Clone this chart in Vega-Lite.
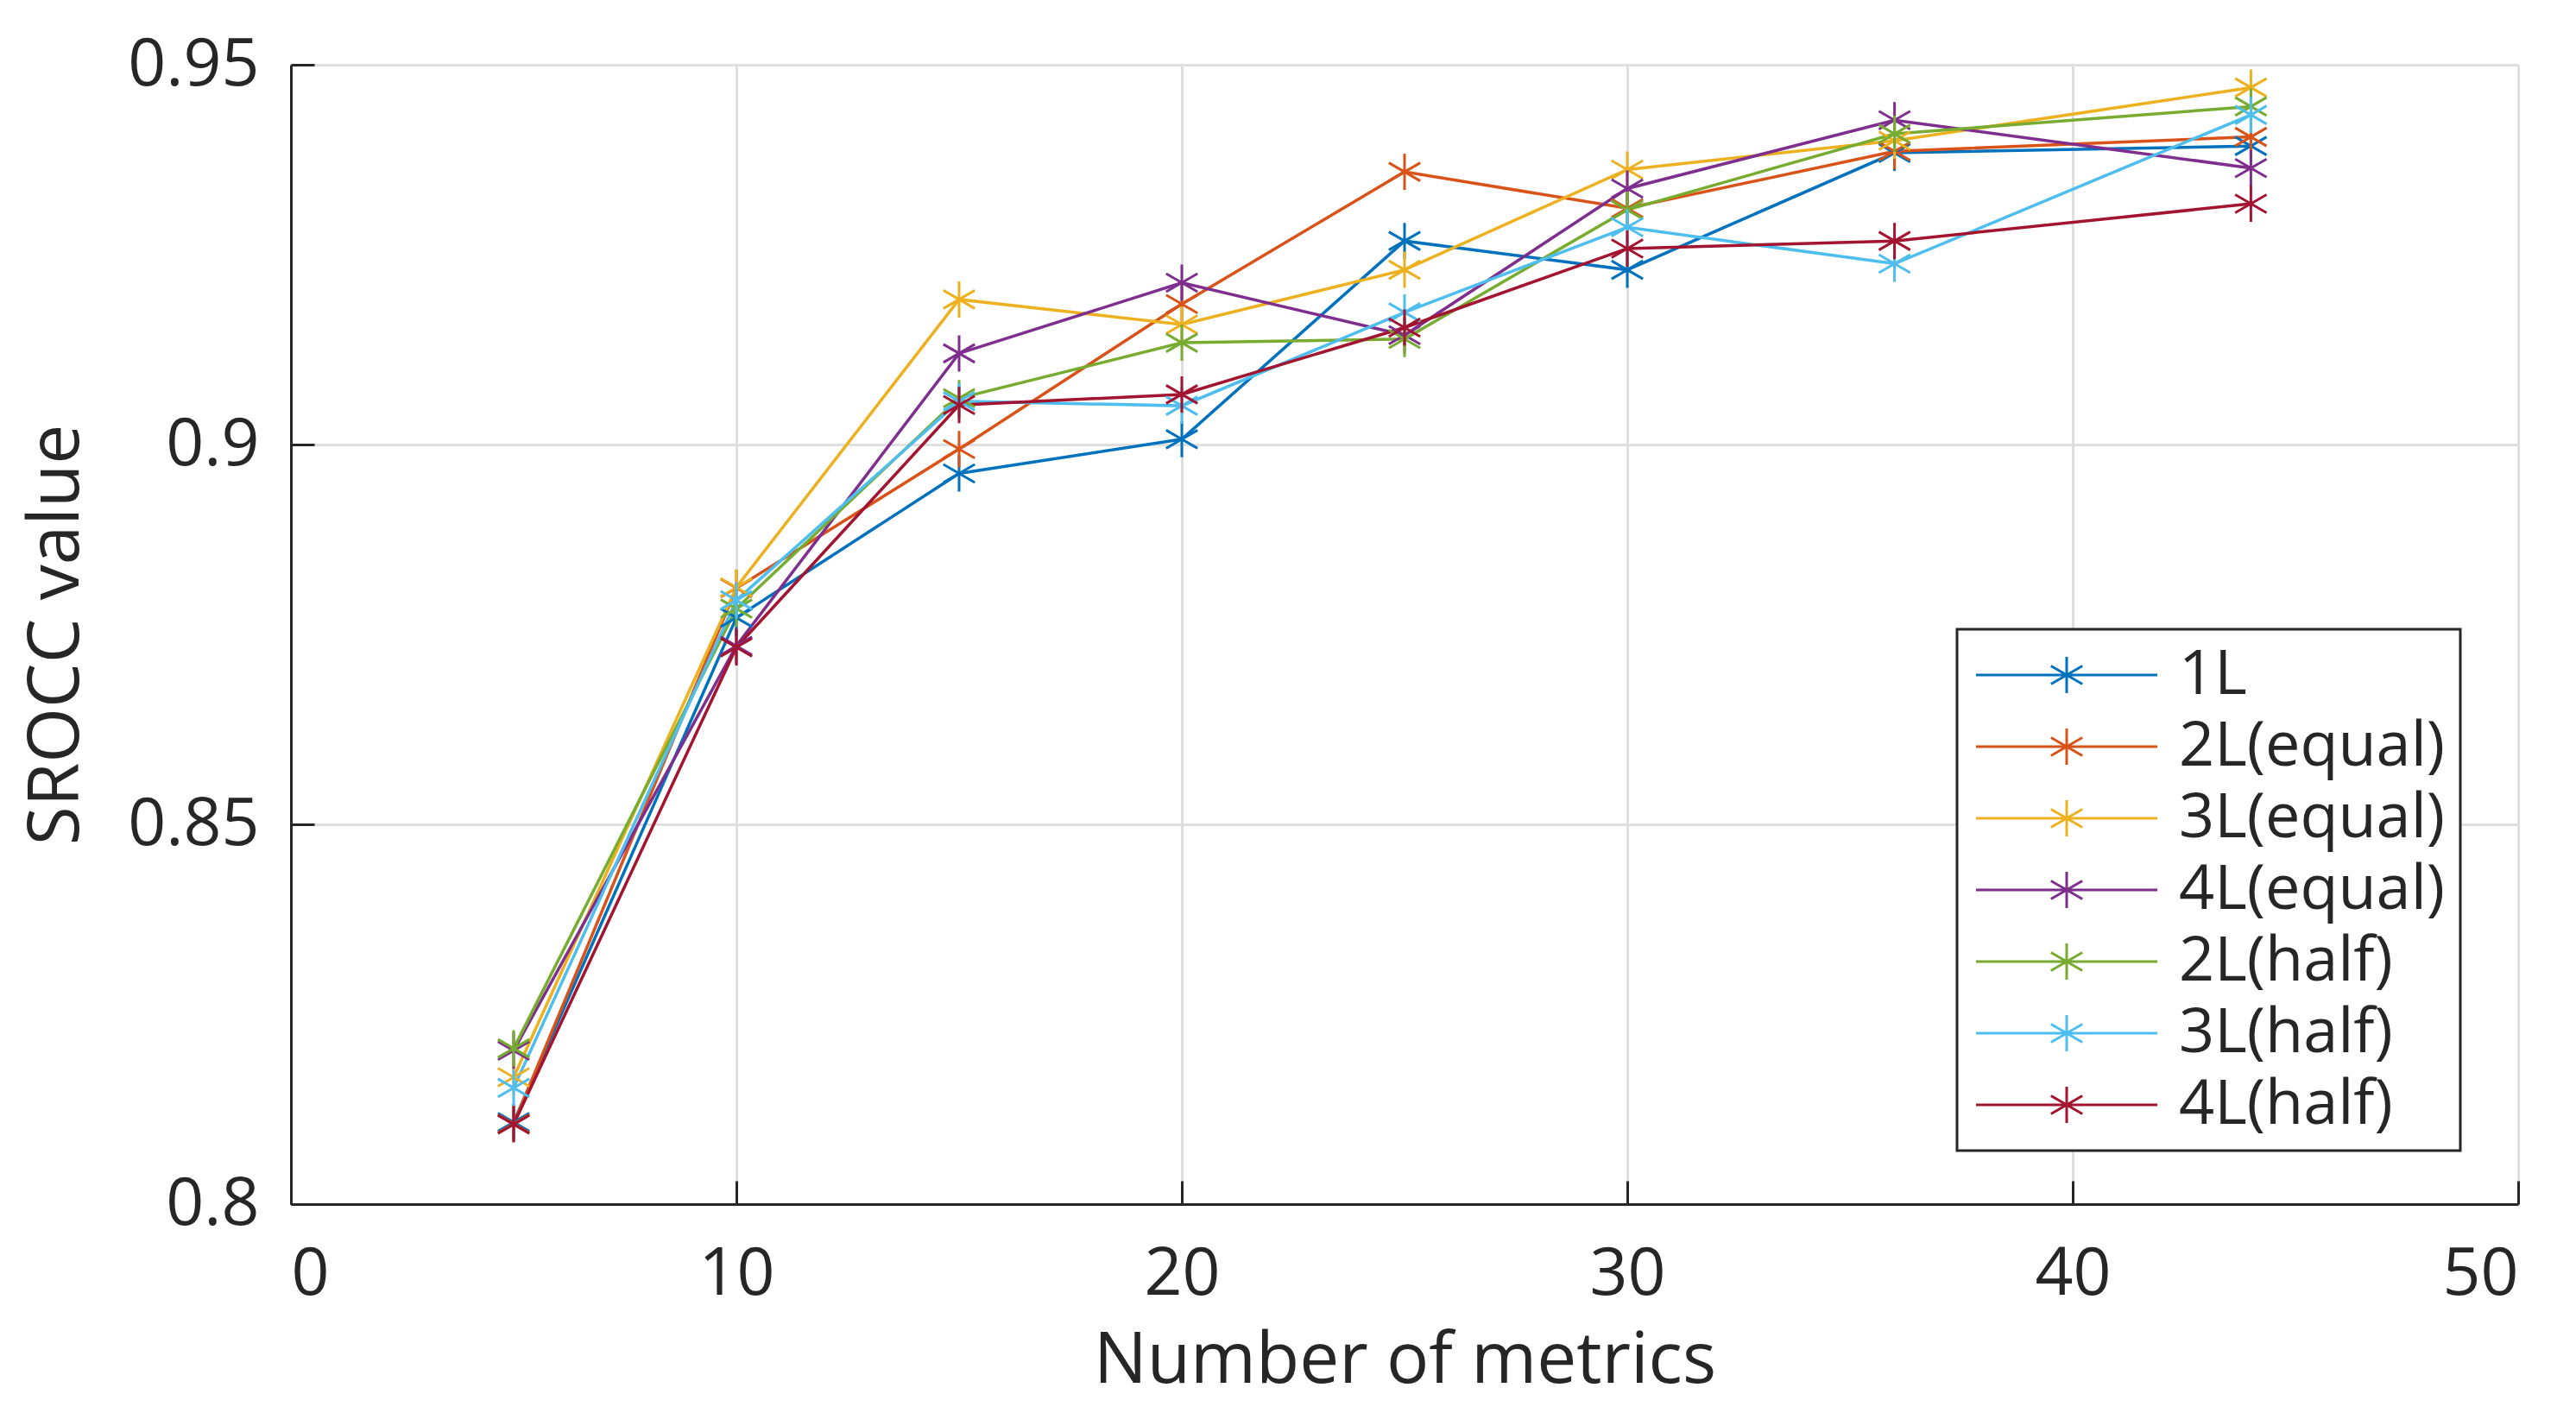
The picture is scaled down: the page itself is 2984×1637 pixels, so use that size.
{
  "$schema": "https://vega.github.io/schema/vega-lite/v6.json",
  "autosize": {"type": "none"},
  "width": 2580,
  "height": 1320,
  "padding": {"left": 337, "top": 75, "right": 67, "bottom": 242},
  "background": "white",
  "config": {
    "view": {"stroke": null},
    "font": "Open Sans",
    "legend": {"strokeWidth": 3},
    "axis": {
      "labelFont": "Open Sans",
      "titleFont": "Open Sans",
      "labelFontSize": 77,
      "titleFontSize": 82,
      "labelColor": "#262626",
      "titleColor": "#262626",
      "titleFontWeight": "normal",
      "domainColor": "#262626",
      "domainWidth": 3,
      "tickColor": "#262626",
      "tickWidth": 3,
      "tickSize": -27,
      "gridColor": "#dfdfdf",
      "gridWidth": 3,
      "grid": true
    }
  },
  "data": {
    "values": [
      {"n": 5, "v": 0.8108, "s": "1L"},
      {"n": 10, "v": 0.8772, "s": "1L"},
      {"n": 15, "v": 0.8962, "s": "1L"},
      {"n": 20, "v": 0.9007, "s": "1L"},
      {"n": 25, "v": 0.9268, "s": "1L"},
      {"n": 30, "v": 0.9230, "s": "1L"},
      {"n": 36, "v": 0.9384, "s": "1L"},
      {"n": 44, "v": 0.9393, "s": "1L"},
      {"n": 5, "v": 0.8106, "s": "2L(equal)"},
      {"n": 10, "v": 0.8811, "s": "2L(equal)"},
      {"n": 15, "v": 0.8994, "s": "2L(equal)"},
      {"n": 20, "v": 0.9185, "s": "2L(equal)"},
      {"n": 25, "v": 0.9359, "s": "2L(equal)"},
      {"n": 30, "v": 0.9311, "s": "2L(equal)"},
      {"n": 36, "v": 0.9386, "s": "2L(equal)"},
      {"n": 44, "v": 0.9405, "s": "2L(equal)"},
      {"n": 5, "v": 0.8167, "s": "3L(equal)"},
      {"n": 10, "v": 0.8812, "s": "3L(equal)"},
      {"n": 15, "v": 0.9191, "s": "3L(equal)"},
      {"n": 20, "v": 0.9158, "s": "3L(equal)"},
      {"n": 25, "v": 0.9230, "s": "3L(equal)"},
      {"n": 30, "v": 0.9362, "s": "3L(equal)"},
      {"n": 36, "v": 0.9400, "s": "3L(equal)"},
      {"n": 44, "v": 0.9470, "s": "3L(equal)"},
      {"n": 5, "v": 0.8202, "s": "4L(equal)"},
      {"n": 10, "v": 0.8735, "s": "4L(equal)"},
      {"n": 15, "v": 0.9120, "s": "4L(equal)"},
      {"n": 20, "v": 0.9213, "s": "4L(equal)"},
      {"n": 25, "v": 0.9144, "s": "4L(equal)"},
      {"n": 30, "v": 0.9337, "s": "4L(equal)"},
      {"n": 36, "v": 0.9427, "s": "4L(equal)"},
      {"n": 44, "v": 0.9364, "s": "4L(equal)"},
      {"n": 5, "v": 0.8205, "s": "2L(half)"},
      {"n": 10, "v": 0.8784, "s": "2L(half)"},
      {"n": 15, "v": 0.9061, "s": "2L(half)"},
      {"n": 20, "v": 0.9134, "s": "2L(half)"},
      {"n": 25, "v": 0.9139, "s": "2L(half)"},
      {"n": 30, "v": 0.9309, "s": "2L(half)"},
      {"n": 36, "v": 0.9409, "s": "2L(half)"},
      {"n": 44, "v": 0.9445, "s": "2L(half)"},
      {"n": 5, "v": 0.8153, "s": "3L(half)"},
      {"n": 10, "v": 0.8795, "s": "3L(half)"},
      {"n": 15, "v": 0.9057, "s": "3L(half)"},
      {"n": 20, "v": 0.9051, "s": "3L(half)"},
      {"n": 25, "v": 0.9174, "s": "3L(half)"},
      {"n": 30, "v": 0.9286, "s": "3L(half)"},
      {"n": 36, "v": 0.9238, "s": "3L(half)"},
      {"n": 44, "v": 0.9434, "s": "3L(half)"},
      {"n": 5, "v": 0.8105, "s": "4L(half)"},
      {"n": 10, "v": 0.8733, "s": "4L(half)"},
      {"n": 15, "v": 0.9052, "s": "4L(half)"},
      {"n": 20, "v": 0.9066, "s": "4L(half)"},
      {"n": 25, "v": 0.9154, "s": "4L(half)"},
      {"n": 30, "v": 0.9258, "s": "4L(half)"},
      {"n": 36, "v": 0.9268, "s": "4L(half)"},
      {"n": 44, "v": 0.9317, "s": "4L(half)"}
    ]
  },
  "encoding": {
    "x": {
      "field": "n", "type": "quantitative",
      "scale": {"domain": [0, 50], "nice": false, "zero": false},
      "axis": {"values": [0, 10, 20, 30, 40, 50], "title": "Number of metrics", "labelPadding": 70, "titlePadding": 22, "format": "d"}
    },
    "y": {
      "field": "v", "type": "quantitative",
      "scale": {"domain": [0.8, 0.95], "nice": false, "zero": false},
      "axis": {"values": [0.8, 0.85, 0.9, 0.95], "title": "SROCC value", "labelPadding": 64, "titlePadding": 40, "format": ".2~f"}
    },
    "color": {
      "field": "s", "type": "nominal",
      "scale": {
        "domain": ["1L", "2L(equal)", "3L(equal)", "4L(equal)", "2L(half)", "3L(half)", "4L(half)"],
        "range": ["#0072BD", "#D95319", "#EDB120", "#7E2F8E", "#77AC30", "#4DBEEE", "#A2142F"]
      },
      "legend": {
        "title": null,
        "orient": "none",
        "legendX": 1930,
        "legendY": 654,
        "direction": "vertical",
        "padding": 17,
        "strokeColor": "#262626",
        "fillColor": "white",
        "labelFont": "Open Sans",
        "labelFontSize": 72,
        "labelColor": "#262626",
        "labelLimit": 1000,
        "labelOffset": 94,
        "symbolOffset": 74,
        "symbolType": "M-5,0L5,0M0,-1L0,1M-0.866,-0.5L0.866,0.5M-0.866,0.5L0.866,-0.5",
        "symbolSize": 1764,
        "symbolStrokeWidth": 3,
        "symbolFillColor": "transparent",
        "rowPadding": 11
      }
    }
  },
  "layer": [
    {
      "mark": {"type": "line", "strokeWidth": 3.5}
    },
    {
      "mark": {
        "type": "point",
        "shape": "M0,-1L0,1M-0.866,-0.5L0.866,0.5M-0.866,0.5L0.866,-0.5",
        "filled": false,
        "size": 1764,
        "strokeWidth": 3,
        "opacity": 1
      }
    }
  ]
}
